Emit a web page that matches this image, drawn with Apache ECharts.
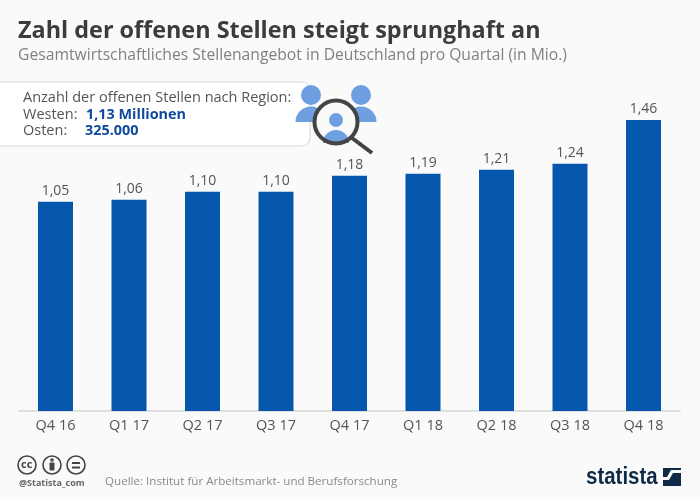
<!DOCTYPE html>
<html>
<head>
<meta charset="utf-8">
<style>html,body{margin:0;padding:0;background:#fafafa}#main{width:700px;height:499px}</style>
<script src="https://cdn.jsdelivr.net/npm/echarts@6/dist/echarts.min.js"></script>
</head>
<body>
<div id="main"></div>
<script>
var quarters = ['Q4 16', 'Q1 17', 'Q2 17', 'Q3 17', 'Q4 17', 'Q1 18', 'Q2 18', 'Q3 18', 'Q4 18'];
var stellen = [1.05, 1.06, 1.10, 1.10, 1.18, 1.19, 1.21, 1.24, 1.46];

var FONT = '"Open Sans", "Noto Sans", sans-serif';
var BLUE = '#0557ad';
var ICON = '#6e9fe0';

function txt(x, y, text, size, color, weight, family) {
  return {
    type: 'text', x: x, y: y, z: 10,
    style: { text: text, font: (weight || 'normal') + ' ' + size + 'px ' + (family || FONT), fill: color, textVerticalAlign: 'middle' }
  };
}
function person(cx, headY, headR, bodyY, bodyR) {
  return [
    { type: 'circle', z: 5, shape: { cx: cx, cy: headY, r: headR }, style: { fill: ICON } },
    { type: 'sector', z: 5, shape: { cx: cx, cy: bodyY, r: bodyR, startAngle: Math.PI, endAngle: 2 * Math.PI }, style: { fill: ICON } }
  ];
}
function ccIcon(cx) {
  return { type: 'circle', z: 5, shape: { cx: cx, cy: 465, r: 9 }, style: { fill: 'none', stroke: '#444', lineWidth: 1.6 } };
}

var logoText = txt(586, 478, 'statista', 23, '#0f2a47', 'bold', '"Liberation Sans Narrow", "Liberation Sans", sans-serif');
logoText.scaleX = 0.89;

var graphics = [
  // info box
  { type: 'rect', z: 2, shape: { x: -12, y: 82, width: 322, height: 64, r: 8 }, style: { fill: '#fff', stroke: '#dcdcdc', lineWidth: 1.2 } },
  txt(23, 98, 'Anzahl der offenen Stellen nach Region:', 14.5, '#555'),
  txt(23, 115, 'Westen:', 14.5, '#555'),
  txt(86, 115, '1,13 Millionen', 14.4, '#0f4a9c', 'bold'),
  txt(23, 131, 'Osten:', 14.5, '#555'),
  txt(85, 131, '325.000', 14.4, '#0f4a9c', 'bold')
];
graphics = graphics.concat(person(311, 95, 10, 122, 15.5), person(361, 95, 10, 122, 15.5));
graphics.push({ type: 'circle', z: 6, shape: { cx: 336, cy: 122, r: 22 }, style: { fill: '#fafafa' } });
graphics = graphics.concat(person(336, 120, 7, 143, 13).map(function (p) { p.z = 7; return p; }));
graphics.push(
  { type: 'line', z: 8, shape: { x1: 352, y1: 138, x2: 372, y2: 153 }, style: { stroke: '#444', lineWidth: 4 } },
  { type: 'circle', z: 8, shape: { cx: 336, cy: 122, r: 21.5 }, style: { fill: 'none', stroke: '#444', lineWidth: 4 } },
  // cc badges
  ccIcon(27), ccIcon(52), ccIcon(76),
  txt(21, 465, 'cc', 11, '#444', 'bold'),
  { type: 'circle', z: 6, shape: { cx: 52, cy: 460, r: 1.8 }, style: { fill: '#444' } },
  { type: 'rect', z: 6, shape: { x: 49.5, y: 462.5, width: 5, height: 8, r: 1 }, style: { fill: '#444' } },
  { type: 'rect', z: 6, shape: { x: 72, y: 462, width: 8, height: 2 }, style: { fill: '#444' } },
  { type: 'rect', z: 6, shape: { x: 72, y: 466.5, width: 8, height: 2 }, style: { fill: '#444' } },
  txt(19, 483, '@Statista_com', 9, '#666', 'bold'),
  txt(105, 482, 'Quelle: Institut für Arbeitsmarkt- und Berufsforschung', 11.6, '#8a8a8a'),
  // statista logo
  logoText,
  { type: 'rect', z: 5, shape: { x: 663, y: 468, width: 18, height: 18 }, style: { fill: '#0f2a47' } },
  { type: 'polygon', z: 6, shape: { points: [[663, 480], [669, 480], [673, 473], [681, 473], [681, 470], [671, 470], [667, 477], [663, 477]] }, style: { fill: '#fafafa' } }
);

var chart = echarts.init(document.getElementById('main'));
chart.setOption({
  backgroundColor: '#fafafa',
  animation: false,
  title: {
    text: 'Zahl der offenen Stellen steigt sprunghaft an',
    subtext: 'Gesamtwirtschaftliches Stellenangebot in Deutschland pro Quartal (in Mio.)',
    left: 18,
    top: 20,
    padding: 0,
    itemGap: 5,
    textStyle: { fontFamily: FONT, fontSize: 23.4, fontWeight: 'bold', color: '#3c3c3c' },
    subtextStyle: { fontFamily: FONT, fontSize: 15.7, color: '#808080' }
  },
  grid: { left: 18.75, right: 19.75, top: 112, bottom: 88 },
  xAxis: {
    type: 'category',
    data: quarters,
    axisLine: { lineStyle: { color: '#d8d8d8', width: 1.5 } },
    axisTick: { show: false },
    axisLabel: { color: '#555', fontFamily: FONT, fontSize: 14.5, margin: 7 }
  },
  yAxis: { type: 'value', min: 0, max: 1.5, show: false, splitLine: { show: false } },
  series: [{
    type: 'bar',
    data: stellen,
    barWidth: 35,
    itemStyle: { color: BLUE },
    label: {
      show: true,
      position: 'top',
      distance: 4,
      color: '#555',
      fontFamily: FONT,
      fontSize: 14,
      formatter: function (p) { return p.value.toFixed(2).replace('.', ','); }
    }
  }],
  graphic: graphics
});
</script>
</body>
</html>
